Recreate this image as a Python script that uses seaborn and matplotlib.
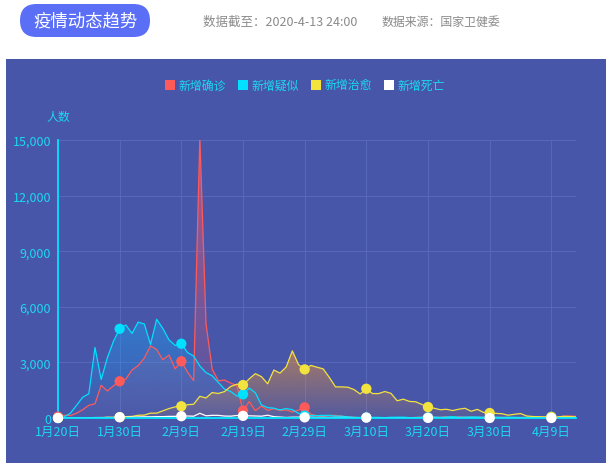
import numpy as np
import pandas as pd
import matplotlib
matplotlib.use("Agg")
import matplotlib.pyplot as plt
import seaborn as sns
from matplotlib.patches import FancyBboxPatch, Rectangle
from matplotlib.colors import to_rgb

# ---------------- data ----------------
start_date = "2020-01-20"
end_date = "2020-04-13"
series_names = ["新增确诊", "新增疑似", "新增治愈", "新增死亡"]
series_colors = ["#ff5a5a", "#00e0ff", "#f3e33f", "#ffffff"]

new_confirmed = [77, 149, 131, 259, 444, 688, 769, 1771, 1459, 1737, 1982, 2102,
                 2590, 2829, 3235, 3887, 3694, 3143, 3399, 2656, 3062, 2478, 2015, 15152, 5090, 2641,
                 2009, 2048, 1886, 1749, 394, 889, 397, 648, 409, 508, 406, 433, 327, 427, 573,
                 202, 125, 119, 139, 143, 99, 44, 40, 19, 24, 15, 8, 11, 20, 16, 21, 13, 34, 39, 41,
                 46, 39, 78, 47, 67, 55, 54, 45, 31, 48, 36,
                 35, 31, 19, 30, 39, 32, 62, 63, 42, 46, 99, 108, 89]
new_suspected = [0, 60, 257, 680, 1118, 1309, 3806, 2077, 3248, 4148, 4812, 5019,
                 4562, 5173, 5072, 3971, 5328, 4833, 4214, 3916, 4008, 3536, 3342, 2807, 2450, 2277,
                 1918, 1563, 1432, 1185, 1277, 1614, 1361, 700, 560, 530, 439, 508, 452, 248, 132,
                 141, 129, 143, 143, 102, 99, 60, 36, 31, 31, 33, 33, 17, 39, 41, 45, 21, 23, 45, 33,
                 54, 34, 51, 76, 43, 47, 60, 54, 42, 50, 44,
                 30, 40, 38, 23, 38, 36, 28, 21, 58, 26, 59, 71, 53]
new_cured = [0, 3, 6, 6, 4, 11, 2, 9, 43, 21, 47, 72,
             85, 147, 157, 262, 261, 387, 510, 600, 632, 716, 744, 1171, 1081, 1373,
             1323, 1425, 1701, 1824, 1779, 2109, 2393, 2230, 1846, 2589, 2422, 2750, 3622, 2885, 2623,
             2837, 2742, 2652, 2189, 1681, 1678, 1661, 1535, 1297, 1578, 1318, 1318, 1430, 1328, 930,
             1016, 894, 876, 733, 591, 527, 446, 470, 402, 476, 525, 363, 466, 303, 270, 250,
             230, 150, 200, 240, 110, 80, 70, 60, 60, 60, 90, 80, 60]
new_deaths = [0, 3, 8, 8, 16, 15, 24, 26, 26, 38, 43, 46,
              45, 57, 64, 65, 73, 73, 86, 89, 97, 108, 97, 254, 121, 143,
              142, 105, 98, 136, 114, 118, 109, 97, 150, 71, 52, 29, 44, 47, 35,
              42, 31, 38, 31, 30, 28, 27, 22, 17, 22, 11, 7, 13, 10, 14, 13, 11, 8, 3, 7,
              6, 9, 7, 4, 6, 5, 3, 5, 4, 1, 1,
              7, 6, 4, 3, 1, 2, 0, 2, 1, 3, 0, 2, 0]
y_ticks = [0, 3000, 6000, 9000, 12000, 15000]
marker_every = 10

# ---------------- styling ----------------
sns.set_theme(style="white")
plt.rcParams["font.family"] = ["Noto Sans CJK SC", "DejaVu Sans"]
plt.rcParams["axes.unicode_minus"] = False

W, H = 613, 464
bg = "#4756a8"
cyan_txt = "#1cd8f4"
grid_c = "#5668bc"

dates = pd.date_range(start_date, end_date)
day = np.arange(len(dates))
all_vals = [new_confirmed, new_suspected, new_cured, new_deaths]
df = pd.concat([pd.DataFrame({"day": day, "value": v, "series": n})
                for n, v in zip(series_names, all_vals)], ignore_index=True)
palette = dict(zip(series_names, series_colors))

fig = plt.figure(figsize=(W / 100, H / 100), dpi=100, facecolor="white")

# chart panel
fig.patches.append(Rectangle((6 / W, 0), 600 / W, (H - 60) / H, transform=fig.transFigure,
                             facecolor=bg, edgecolor="none", zorder=-5))

ax = fig.add_axes([58 / W, 1 - 419 / H, (576 - 58) / W, (419 - 141) / H])
ax.set_zorder(1)
ax.set_facecolor("none")

# gradient area fills
fill_alpha = {"新增确诊": (0.55, 0.05), "新增疑似": (0.5, 0.05), "新增治愈": (0.6, 0.08)}
fill_color = {"新增确诊": "#ff5a6e", "新增疑似": "#1e9cf0", "新增治愈": "#e8923a"}
for i, (n, v) in enumerate(zip(series_names, all_vals)):
    if n not in fill_alpha:
        continue
    poly = ax.fill_between(day, v, 0, facecolor="none", edgecolor="none")
    a_top, a_bot = fill_alpha[n]
    rgb = to_rgb(fill_color[n])
    nrow = 256
    arr = np.zeros((nrow, 1, 4))
    arr[:, 0, :3] = rgb
    arr[:, 0, 3] = np.linspace(a_top, a_bot, nrow)
    im = ax.imshow(arr, extent=[day[0], day[-1], 0, max(v)], origin="upper",
                   aspect="auto", interpolation="bilinear", zorder=1 + i * 0.1)
    im.set_clip_path(poly.get_paths()[0], transform=ax.transData)

sns.lineplot(data=df, x="day", y="value", hue="series", hue_order=series_names,
             palette=palette, linewidth=0.9, legend=False, ax=ax, estimator=None, zorder=3)

mk = df[df["day"] % marker_every == 0]
sns.scatterplot(data=mk, x="day", y="value", hue="series", hue_order=series_names,
                palette=palette, s=55, edgecolor="none", legend=False, ax=ax,
                zorder=6, clip_on=False)

ax.set_xlim(day[0], day[-1])
ax.set_ylim(y_ticks[0], y_ticks[-1])
xt = day[::marker_every]
ax.set_xticks(xt)
ax.set_xticklabels([f"{dates[i].month}月{dates[i].day}日" for i in xt])
ax.set_yticks(y_ticks)
ax.set_yticklabels([f"{t:,}" for t in y_ticks])
ax.set_xlabel("")
ax.set_ylabel("")
ax.tick_params(axis="both", colors=cyan_txt, labelsize=9, length=0)
ax.tick_params(axis="x", pad=5)
ax.tick_params(axis="y", pad=5)
ax.grid(True, color=grid_c, linewidth=0.8)
ax.set_axisbelow(True)
for s in ["top", "right"]:
    ax.spines[s].set_visible(False)
for s in ["left", "bottom"]:
    ax.spines[s].set_color("#00e5ff")
    ax.spines[s].set_linewidth(1.3)
    ax.spines[s].set_zorder(4)

fig.text(58 / W, 1 - 117 / H, "人数", ha="center", va="center", color=cyan_txt, fontsize=8.6)

# legend (manual)
leg_x = [165, 238, 311, 384]
for x0, n, c in zip(leg_x, series_names, series_colors):
    fig.patches.append(Rectangle((x0 / W, 1 - 91 / H), 10 / W, 10 / H, transform=fig.transFigure,
                                 facecolor=c, edgecolor="none", zorder=2))
    fig.text((x0 + 14) / W, 1 - 86 / H, n, ha="left", va="center", color=cyan_txt, fontsize=8.6)

# header
fig.patches.append(FancyBboxPatch((0.20, (H - 38) / 100), 1.30, 0.33,
                                  boxstyle="round,pad=0,rounding_size=0.165",
                                  transform=fig.dpi_scale_trans, facecolor="#5b6ff6",
                                  edgecolor="none", zorder=2))
fig.text(85 / W, 1 - 21.5 / H, "疫情动态趋势", ha="center", va="center", color="white", fontsize=12.5)
fig.text(203 / W, 1 - 22 / H, "数据截至：2020-4-13 24:00", ha="left", va="center",
         color="#8a8a8a", fontsize=9)
fig.text(381 / W, 1 - 22 / H, "数据来源：国家卫健委", ha="left", va="center",
         color="#8a8a8a", fontsize=8.6)

fig.savefig("out.png", dpi=100, facecolor="white")
